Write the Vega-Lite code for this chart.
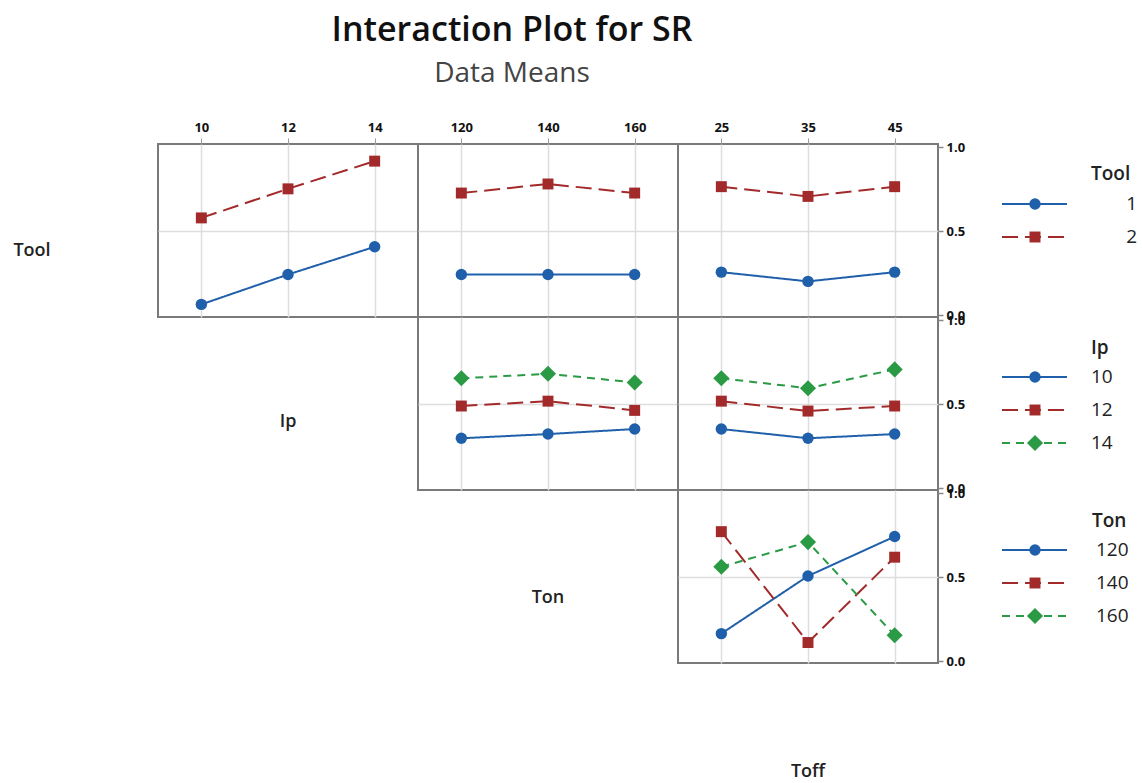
{
  "$schema": "https://vega.github.io/schema/vega-lite/v6.json",
  "padding": {"left": 0, "top": 14, "right": 0, "bottom": 0},
  "title": {"text": "Interaction Plot for SR", "subtitle": "Data Means", "anchor": "middle", "dx": -59, "fontSize": 34, "fontWeight": 600, "font": "Open Sans", "color": "#111111", "subtitleFont": "Open Sans", "subtitleFontSize": 28, "subtitleColor": "#444444", "subtitlePadding": 12, "offset": 32},
  "config": {
    "view": {"stroke": null},
    "legend": {"disable": true},
    "font": "Open Sans",
    "axis": {"labelFont": "Open Sans", "labelFontSize": 13, "labelFontWeight": "bold", "labelColor": "#111111", "labelFlush": false, "gridColor": "#dddddd", "gridWidth": 1.5}
  },
  "datasets": {
    "toolIp": [
      {"Tool": "1", "Ip": 10, "SR": 0.065}, {"Tool": "1", "Ip": 12, "SR": 0.243}, {"Tool": "1", "Ip": 14, "SR": 0.408},
      {"Tool": "2", "Ip": 10, "SR": 0.58}, {"Tool": "2", "Ip": 12, "SR": 0.753}, {"Tool": "2", "Ip": 14, "SR": 0.918}
    ],
    "toolTon": [
      {"Tool": "1", "Ton": 120, "SR": 0.243}, {"Tool": "1", "Ton": 140, "SR": 0.243}, {"Tool": "1", "Ton": 160, "SR": 0.243},
      {"Tool": "2", "Ton": 120, "SR": 0.728}, {"Tool": "2", "Ton": 140, "SR": 0.782}, {"Tool": "2", "Ton": 160, "SR": 0.728}
    ],
    "toolToff": [
      {"Tool": "1", "Toff": 25, "SR": 0.257}, {"Tool": "1", "Toff": 35, "SR": 0.202}, {"Tool": "1", "Toff": 45, "SR": 0.257},
      {"Tool": "2", "Toff": 25, "SR": 0.766}, {"Tool": "2", "Toff": 35, "SR": 0.708}, {"Tool": "2", "Toff": 45, "SR": 0.766}
    ],
    "ipTon": [
      {"Ip": "10", "Ton": 120, "SR": 0.298}, {"Ip": "10", "Ton": 140, "SR": 0.323}, {"Ip": "10", "Ton": 160, "SR": 0.353},
      {"Ip": "12", "Ton": 120, "SR": 0.49}, {"Ip": "12", "Ton": 140, "SR": 0.519}, {"Ip": "12", "Ton": 160, "SR": 0.464},
      {"Ip": "14", "Ton": 120, "SR": 0.655}, {"Ip": "14", "Ton": 140, "SR": 0.682}, {"Ip": "14", "Ton": 160, "SR": 0.63}
    ],
    "ipToff": [
      {"Ip": "10", "Toff": 25, "SR": 0.353}, {"Ip": "10", "Toff": 35, "SR": 0.298}, {"Ip": "10", "Toff": 45, "SR": 0.323},
      {"Ip": "12", "Toff": 25, "SR": 0.519}, {"Ip": "12", "Toff": 35, "SR": 0.46}, {"Ip": "12", "Toff": 45, "SR": 0.49},
      {"Ip": "14", "Toff": 25, "SR": 0.655}, {"Ip": "14", "Toff": 35, "SR": 0.596}, {"Ip": "14", "Toff": 45, "SR": 0.708}
    ],
    "tonToff": [
      {"Ton": "120", "Toff": 25, "SR": 0.165}, {"Ton": "120", "Toff": 35, "SR": 0.508}, {"Ton": "120", "Toff": 45, "SR": 0.743},
      {"Ton": "140", "Toff": 25, "SR": 0.772}, {"Ton": "140", "Toff": 35, "SR": 0.112}, {"Ton": "140", "Toff": 45, "SR": 0.62},
      {"Ton": "160", "Toff": 25, "SR": 0.563}, {"Ton": "160", "Toff": 35, "SR": 0.71}, {"Ton": "160", "Toff": 45, "SR": 0.155}
    ],
    "toolLevels": [{"Tool": "1"}, {"Tool": "2"}],
    "ipLevels": [{"Ip": "10"}, {"Ip": "12"}, {"Ip": "14"}],
    "tonLevels": [{"Ton": "120"}, {"Ton": "140"}, {"Ton": "160"}]
  },
  "bounds": "flush",
  "spacing": 0,
  "columns": 5,
  "align": "each",
  "resolve": {"scale": {"color": "independent", "shape": "independent", "strokeDash": "independent"}},
  "concat": [
    {"width": 158, "height": 173, "data": {"values": [{}]}, "mark": {"type": "text", "text": "Tool", "dx": -47, "dy": 20, "fontSize": 18, "fontWeight": 600, "color": "#222222"}, "encoding": {}},
    {
      "width": 260, "height": 173,
      "view": {"stroke": "#7a7a7a", "strokeWidth": 2},
      "data": {"name": "toolIp"},
      "encoding": {
        "x": {"field": "Ip", "type": "quantitative", "scale": {"domain": [9, 15], "nice": false, "zero": false}, "axis": {"orient": "top", "values": [10, 12, 14], "title": null, "domain": false, "tickSize": 6, "tickColor": "#999999", "labelPadding": 4, "grid": true}},
        "y": {"field": "SR", "type": "quantitative", "scale": {"domain": [-0.01, 1.02], "nice": false, "zero": false}, "axis": {"values": [0.5], "title": null, "labels": false, "ticks": false, "domain": false, "grid": true}},
        "color": {"field": "Tool", "type": "nominal", "scale": {"domain": ["1", "2"], "range": ["#2060ab", "#a32a2a"]}}
      },
      "layer": [
        {"mark": {"type": "line", "strokeWidth": 2}, "encoding": {"strokeDash": {"field": "Tool", "type": "nominal", "scale": {"domain": ["1", "2"], "range": [[1, 0], [16, 7]]}}}},
        {"mark": {"type": "point", "filled": true, "opacity": 1}, "encoding": {"shape": {"field": "Tool", "type": "nominal", "scale": {"domain": ["1", "2"], "range": ["circle", "square"]}}, "size": {"condition": {"test": "datum.Tool === '1'", "value": 130}, "value": 120}}}
      ]
    },
    {
      "width": 260, "height": 173,
      "view": {"stroke": "#7a7a7a", "strokeWidth": 2},
      "data": {"name": "toolTon"},
      "encoding": {
        "x": {"field": "Ton", "type": "quantitative", "scale": {"domain": [110, 170], "nice": false, "zero": false}, "axis": {"orient": "top", "values": [120, 140, 160], "title": null, "domain": false, "tickSize": 6, "tickColor": "#999999", "labelPadding": 4, "grid": true}},
        "y": {"field": "SR", "type": "quantitative", "scale": {"domain": [-0.01, 1.02], "nice": false, "zero": false}, "axis": {"values": [0.5], "title": null, "labels": false, "ticks": false, "domain": false, "grid": true}},
        "color": {"field": "Tool", "type": "nominal", "scale": {"domain": ["1", "2"], "range": ["#2060ab", "#a32a2a"]}}
      },
      "layer": [
        {"mark": {"type": "line", "strokeWidth": 2}, "encoding": {"strokeDash": {"field": "Tool", "type": "nominal", "scale": {"domain": ["1", "2"], "range": [[1, 0], [16, 7]]}}}},
        {"mark": {"type": "point", "filled": true, "opacity": 1}, "encoding": {"shape": {"field": "Tool", "type": "nominal", "scale": {"domain": ["1", "2"], "range": ["circle", "square"]}}, "size": {"condition": {"test": "datum.Tool === '1'", "value": 130}, "value": 120}}}
      ]
    },
    {
      "width": 260, "height": 173,
      "view": {"stroke": "#7a7a7a", "strokeWidth": 2},
      "data": {"name": "toolToff"},
      "encoding": {
        "x": {"field": "Toff", "type": "quantitative", "scale": {"domain": [20, 50], "nice": false, "zero": false}, "axis": {"orient": "top", "values": [25, 35, 45], "title": null, "domain": false, "tickSize": 6, "tickColor": "#999999", "labelPadding": 4, "grid": true}},
        "y": {"field": "SR", "type": "quantitative", "scale": {"domain": [-0.01, 1.02], "nice": false, "zero": false}, "axis": {"orient": "right", "values": [0, 0.5, 1], "format": ".1f", "title": null, "domain": false, "tickSize": 5, "tickColor": "#888888", "tickWidth": 1.5, "labelPadding": 3, "grid": true, "gridOpacity": {"condition": {"test": "datum.value === 0.5", "value": 1}, "value": 0}}},
        "color": {"field": "Tool", "type": "nominal", "scale": {"domain": ["1", "2"], "range": ["#2060ab", "#a32a2a"]}}
      },
      "layer": [
        {"mark": {"type": "line", "strokeWidth": 2}, "encoding": {"strokeDash": {"field": "Tool", "type": "nominal", "scale": {"domain": ["1", "2"], "range": [[1, 0], [16, 7]]}}}},
        {"mark": {"type": "point", "filled": true, "opacity": 1}, "encoding": {"shape": {"field": "Tool", "type": "nominal", "scale": {"domain": ["1", "2"], "range": ["circle", "square"]}}, "size": {"condition": {"test": "datum.Tool === '1'", "value": 130}, "value": 120}}}
      ]
    },
    {
      "width": 204, "height": 173,
      "data": {"name": "toolLevels"},
      "encoding": {
        "y": {"field": "Tool", "type": "nominal", "scale": {"type": "point", "domain": ["Tool", "1", "2"], "range": [27, 93], "padding": 0}, "axis": null}
      },
      "layer": [
        {"mark": {"type": "rule", "strokeWidth": 2}, "encoding": {"x": {"datum": 64, "type": "quantitative", "scale": {"domain": [0, 204], "nice": false, "zero": false}, "axis": null}, "x2": {"datum": 129}, "color": {"field": "Tool", "type": "nominal", "scale": {"domain": ["1", "2"], "range": ["#2060ab", "#a32a2a"]}}, "strokeDash": {"field": "Tool", "type": "nominal", "scale": {"domain": ["1", "2"], "range": [[1, 0], [16, 7]]}}}},
        {"mark": {"type": "point", "filled": true, "opacity": 1}, "encoding": {"x": {"datum": 97, "type": "quantitative"}, "color": {"field": "Tool", "type": "nominal"}, "shape": {"field": "Tool", "type": "nominal", "scale": {"domain": ["1", "2"], "range": ["circle", "square"]}}, "size": {"condition": {"test": "datum.Tool === '1'", "value": 130}, "value": 120}}},
        {"mark": {"type": "text", "align": "right", "fontSize": 19, "color": "#222222"}, "encoding": {"x": {"datum": 199, "type": "quantitative"}, "text": {"field": "Tool"}}},
        {"data": {"values": [{}]}, "mark": {"type": "text", "text": "Tool", "align": "left", "dy": 3, "fontSize": 19, "fontWeight": 600, "color": "#222222"}, "encoding": {"x": {"datum": 153, "type": "quantitative"}, "y": {"datum": "Tool", "type": "nominal"}}}
      ]
    },
    {"width": 158, "height": 173, "data": {"values": [{}]}, "mark": {"type": "text", "text": ""}, "encoding": {}},
    {"width": 260, "height": 173, "data": {"values": [{}]}, "mark": {"type": "text", "text": "Ip", "dy": 18, "fontSize": 18, "fontWeight": 600, "color": "#222222"}, "encoding": {}},
    {
      "width": 260, "height": 173,
      "view": {"stroke": "#7a7a7a", "strokeWidth": 2},
      "data": {"name": "ipTon"},
      "encoding": {
        "x": {"field": "Ton", "type": "quantitative", "scale": {"domain": [110, 170], "nice": false, "zero": false}, "axis": {"values": [120, 140, 160], "title": null, "labels": false, "ticks": false, "domain": false, "grid": true}},
        "y": {"field": "SR", "type": "quantitative", "scale": {"domain": [-0.01, 1.02], "nice": false, "zero": false}, "axis": {"values": [0.5], "title": null, "labels": false, "ticks": false, "domain": false, "grid": true}},
        "color": {"field": "Ip", "type": "nominal", "scale": {"domain": ["10", "12", "14"], "range": ["#2060ab", "#a32a2a", "#2a9a45"]}}
      },
      "layer": [
        {"mark": {"type": "line", "strokeWidth": 2}, "encoding": {"strokeDash": {"field": "Ip", "type": "nominal", "scale": {"domain": ["10", "12", "14"], "range": [[1, 0], [16, 7], [8, 6]]}}}},
        {"mark": {"type": "point", "filled": true, "opacity": 1}, "encoding": {"shape": {"field": "Ip", "type": "nominal", "scale": {"domain": ["10", "12", "14"], "range": ["circle", "square", "diamond"]}}, "size": {"condition": [{"test": "datum.Ip === '14'", "value": 260}, {"test": "datum.Ip === '10'", "value": 130}], "value": 120}}}
      ]
    },
    {
      "width": 260, "height": 173,
      "view": {"stroke": "#7a7a7a", "strokeWidth": 2},
      "data": {"name": "ipToff"},
      "encoding": {
        "x": {"field": "Toff", "type": "quantitative", "scale": {"domain": [20, 50], "nice": false, "zero": false}, "axis": {"values": [25, 35, 45], "title": null, "labels": false, "ticks": false, "domain": false, "grid": true}},
        "y": {"field": "SR", "type": "quantitative", "scale": {"domain": [-0.01, 1.02], "nice": false, "zero": false}, "axis": {"orient": "right", "values": [0, 0.5, 1], "format": ".1f", "title": null, "domain": false, "tickSize": 5, "tickColor": "#888888", "tickWidth": 1.5, "labelPadding": 3, "grid": true, "gridOpacity": {"condition": {"test": "datum.value === 0.5", "value": 1}, "value": 0}}},
        "color": {"field": "Ip", "type": "nominal", "scale": {"domain": ["10", "12", "14"], "range": ["#2060ab", "#a32a2a", "#2a9a45"]}}
      },
      "layer": [
        {"mark": {"type": "line", "strokeWidth": 2}, "encoding": {"strokeDash": {"field": "Ip", "type": "nominal", "scale": {"domain": ["10", "12", "14"], "range": [[1, 0], [16, 7], [8, 6]]}}}},
        {"mark": {"type": "point", "filled": true, "opacity": 1}, "encoding": {"shape": {"field": "Ip", "type": "nominal", "scale": {"domain": ["10", "12", "14"], "range": ["circle", "square", "diamond"]}}, "size": {"condition": [{"test": "datum.Ip === '14'", "value": 260}, {"test": "datum.Ip === '10'", "value": 130}], "value": 120}}}
      ]
    },
    {
      "width": 204, "height": 173,
      "data": {"name": "ipLevels"},
      "encoding": {
        "y": {"field": "Ip", "type": "nominal", "scale": {"type": "point", "domain": ["Ip", "10", "12", "14"], "range": [27, 126], "padding": 0}, "axis": null}
      },
      "layer": [
        {"mark": {"type": "rule", "strokeWidth": 2}, "encoding": {"x": {"datum": 64, "type": "quantitative", "scale": {"domain": [0, 204], "nice": false, "zero": false}, "axis": null}, "x2": {"datum": 129}, "color": {"field": "Ip", "type": "nominal", "scale": {"domain": ["10", "12", "14"], "range": ["#2060ab", "#a32a2a", "#2a9a45"]}}, "strokeDash": {"field": "Ip", "type": "nominal", "scale": {"domain": ["10", "12", "14"], "range": [[1, 0], [16, 7], [8, 6]]}}}},
        {"mark": {"type": "point", "filled": true, "opacity": 1}, "encoding": {"x": {"datum": 97, "type": "quantitative"}, "color": {"field": "Ip", "type": "nominal"}, "shape": {"field": "Ip", "type": "nominal", "scale": {"domain": ["10", "12", "14"], "range": ["circle", "square", "diamond"]}}, "size": {"condition": [{"test": "datum.Ip === '14'", "value": 260}, {"test": "datum.Ip === '10'", "value": 130}], "value": 120}}},
        {"mark": {"type": "text", "align": "left", "fontSize": 19, "color": "#222222"}, "encoding": {"x": {"datum": 153, "type": "quantitative"}, "text": {"field": "Ip"}}},
        {"data": {"values": [{}]}, "mark": {"type": "text", "text": "Ip", "align": "left", "dy": 4, "fontSize": 19, "fontWeight": 600, "color": "#222222"}, "encoding": {"x": {"datum": 153, "type": "quantitative"}, "y": {"datum": "Ip", "type": "nominal"}}}
      ]
    },
    {"width": 158, "height": 173, "data": {"values": [{}]}, "mark": {"type": "text", "text": ""}, "encoding": {}},
    {"width": 260, "height": 173, "data": {"values": [{}]}, "mark": {"type": "text", "text": ""}, "encoding": {}},
    {"width": 260, "height": 173, "data": {"values": [{}]}, "mark": {"type": "text", "text": "Ton", "dy": 21, "fontSize": 18, "fontWeight": 600, "color": "#222222"}, "encoding": {}},
    {
      "width": 260, "height": 173,
      "view": {"stroke": "#7a7a7a", "strokeWidth": 2},
      "data": {"name": "tonToff"},
      "encoding": {
        "x": {"field": "Toff", "type": "quantitative", "scale": {"domain": [20, 50], "nice": false, "zero": false}, "axis": {"values": [25, 35, 45], "title": null, "labels": false, "ticks": false, "domain": false, "grid": true}},
        "y": {"field": "SR", "type": "quantitative", "scale": {"domain": [-0.01, 1.02], "nice": false, "zero": false}, "axis": {"orient": "right", "values": [0, 0.5, 1], "format": ".1f", "title": null, "domain": false, "tickSize": 5, "tickColor": "#888888", "tickWidth": 1.5, "labelPadding": 3, "grid": true, "gridOpacity": {"condition": {"test": "datum.value === 0.5", "value": 1}, "value": 0}}},
        "color": {"field": "Ton", "type": "nominal", "scale": {"domain": ["120", "140", "160"], "range": ["#2060ab", "#a32a2a", "#2a9a45"]}}
      },
      "layer": [
        {"mark": {"type": "line", "strokeWidth": 2}, "encoding": {"strokeDash": {"field": "Ton", "type": "nominal", "scale": {"domain": ["120", "140", "160"], "range": [[1, 0], [16, 7], [8, 6]]}}}},
        {"mark": {"type": "point", "filled": true, "opacity": 1}, "encoding": {"shape": {"field": "Ton", "type": "nominal", "scale": {"domain": ["120", "140", "160"], "range": ["circle", "square", "diamond"]}}, "size": {"condition": [{"test": "datum.Ton === '160'", "value": 260}, {"test": "datum.Ton === '120'", "value": 130}], "value": 120}}}
      ]
    },
    {
      "width": 204, "height": 173,
      "data": {"name": "tonLevels"},
      "encoding": {
        "y": {"field": "Ton", "type": "nominal", "scale": {"type": "point", "domain": ["Ton", "120", "140", "160"], "range": [27, 126], "padding": 0}, "axis": null}
      },
      "layer": [
        {"mark": {"type": "rule", "strokeWidth": 2}, "encoding": {"x": {"datum": 64, "type": "quantitative", "scale": {"domain": [0, 204], "nice": false, "zero": false}, "axis": null}, "x2": {"datum": 129}, "color": {"field": "Ton", "type": "nominal", "scale": {"domain": ["120", "140", "160"], "range": ["#2060ab", "#a32a2a", "#2a9a45"]}}, "strokeDash": {"field": "Ton", "type": "nominal", "scale": {"domain": ["120", "140", "160"], "range": [[1, 0], [16, 7], [8, 6]]}}}},
        {"mark": {"type": "point", "filled": true, "opacity": 1}, "encoding": {"x": {"datum": 97, "type": "quantitative"}, "color": {"field": "Ton", "type": "nominal"}, "shape": {"field": "Ton", "type": "nominal", "scale": {"domain": ["120", "140", "160"], "range": ["circle", "square", "diamond"]}}, "size": {"condition": [{"test": "datum.Ton === '160'", "value": 260}, {"test": "datum.Ton === '120'", "value": 130}], "value": 120}}},
        {"mark": {"type": "text", "align": "left", "fontSize": 19, "color": "#222222"}, "encoding": {"x": {"datum": 158, "type": "quantitative"}, "text": {"field": "Ton"}}},
        {"data": {"values": [{}]}, "mark": {"type": "text", "text": "Ton", "align": "left", "dy": 4, "fontSize": 19, "fontWeight": 600, "color": "#222222"}, "encoding": {"x": {"datum": 154, "type": "quantitative"}, "y": {"datum": "Ton", "type": "nominal"}}}
      ]
    },
    {"width": 158, "height": 119, "data": {"values": [{}]}, "mark": {"type": "text", "text": ""}, "encoding": {}},
    {"width": 260, "height": 119, "data": {"values": [{}]}, "mark": {"type": "text", "text": ""}, "encoding": {}},
    {"width": 260, "height": 119, "data": {"values": [{}]}, "mark": {"type": "text", "text": ""}, "encoding": {}},
    {"width": 260, "height": 119, "data": {"values": [{}]}, "mark": {"type": "text", "text": "Toff", "dy": 49, "fontSize": 18, "fontWeight": 600, "color": "#222222"}, "encoding": {}},
    {"width": 204, "height": 119, "data": {"values": [{}]}, "mark": {"type": "text", "text": ""}, "encoding": {}}
  ]
}
